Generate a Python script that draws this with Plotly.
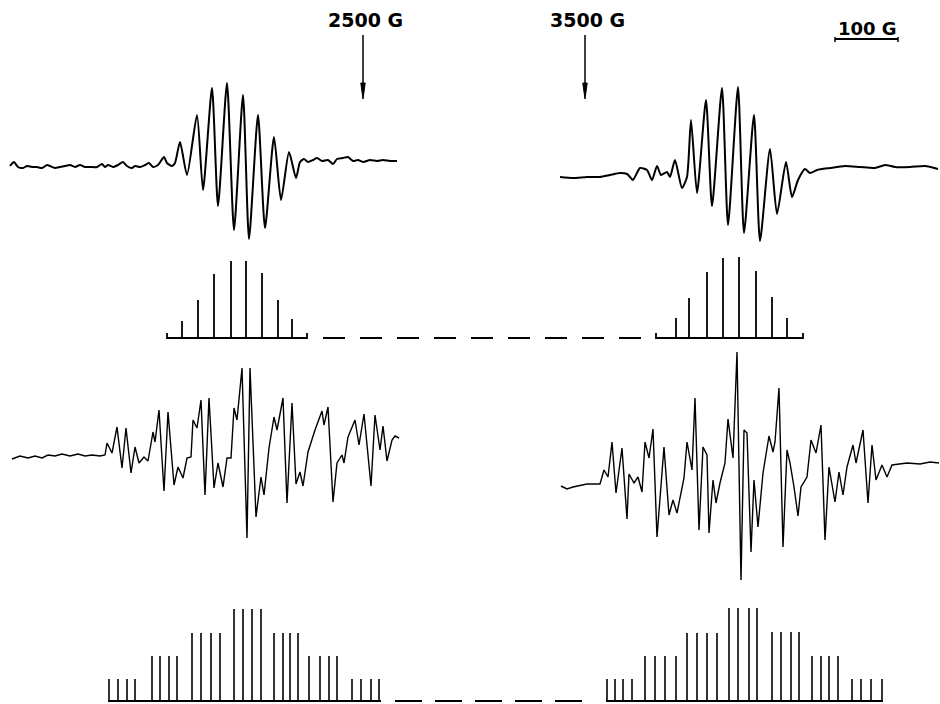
import plotly.graph_objects as go

# ---------------- data ----------------
# horizontal: sweep position (chart units, 0.63 units per gauss)
# vertical: derivative signal amplitude relative to each trace's baseline
UNITS_PER_GAUSS = 0.63

# upper left spectrum
tl_x = [10, 14, 18, 23, 27, 32, 37, 42, 47, 50, 55, 60, 65, 70, 75, 80, 85, 90, 97, 102,
        105, 108, 113, 118, 123, 127, 132, 135, 140, 145, 149, 153, 158, 164, 167, 172, 175,
        180, 187, 197, 203, 212, 218, 227, 234, 243, 249, 258, 265, 274, 281, 289, 296,
        300, 304, 308, 313, 317, 322, 328, 333, 337, 343, 348, 353, 358, 363, 370, 377,
        383, 390, 397]
tl_amp = [-1, 3, -2, -3, -1, -2, -2, -3, 0, -1, -3, -2, -1, 0, -2, 0, -2, -2, -2, 1,
          -2, 0, -2, 0, 3, -1, -3, -1, -2, 0, 2, -2, 0, 8, 2, -1, 2,
          23, -10, 50, -25, 77, -41, 82, -65, 70, -74, 50, -63, 28, -35, 13, -13,
          3, 6, 3, 5, 7, 4, 5, 1, 6, 7, 8, 4, 5, 3, 5, 4,
          5, 4, 4]

# upper right spectrum
tr_x = [560, 573, 587, 600, 610, 620, 627, 630, 633, 640, 647, 652, 657, 661, 667, 670,
        675, 682, 687, 691, 697, 706, 712, 722, 728, 738, 744, 754, 760, 770, 777, 786,
        792, 798, 805, 810, 817, 830, 845, 860, 875, 885, 895, 910, 925, 938]
tr_amp = [-5, -6, -5, -5, -3, -1, -2, -5, -8, 4, 2, -8, 6, -3, 0, -5,
          12, -16, -5, 52, -21, 72, -34, 84, -53, 85, -61, 57, -69, 23, -42, 10,
          -25, -8, 3, -1, 2, 4, 6, 5, 4, 7, 5, 5, 6, 3]

# lower left spectrum
bl_x = [12, 20, 28, 35, 42, 48, 55, 62, 70, 78, 85, 92, 100, 105,
        107, 112, 117, 122, 126, 131, 135, 139, 144, 148, 153, 155, 159, 164, 168, 174,
        178, 183, 187, 191, 193, 197, 201, 205, 209, 214, 218, 223, 227, 231, 234, 237,
        242, 247, 250, 256, 261, 264, 269, 274, 277, 283, 287, 292, 296, 300, 303, 308,
        315, 322, 324, 328, 333, 337, 342, 344, 348, 355, 359, 364, 371, 375, 380, 383,
        387, 392, 395, 399]
bl_amp = [-2, 1, -1, 1, -1, 2, 1, 3, 1, 3, 1, 2, 1, 2,
          14, 4, 30, -11, 29, -16, 10, -6, 0, -4, 25, 15, 47, -34, 45, -28,
          -10, -21, -1, 0, 37, 29, 57, -38, 59, -31, -6, -30, -1, -1, 49, 37,
          89, -81, 89, -60, -20, -38, 9, 40, 27, 59, -46, 54, -27, -15, -29, 5,
          27, 46, 32, 50, -45, -6, 2, -6, 20, 37, 12, 43, -29, 42, 7, 31,
          -4, 17, 21, 19]

# lower right spectrum
br_x = [561, 567, 573, 587, 600, 604, 608, 612, 616, 622, 627, 629, 634, 638, 642, 645,
        649, 653, 657, 661, 664, 669, 673, 677, 684, 687, 692, 695, 699, 703, 707, 709,
        713, 716, 720, 725, 728, 733, 737, 741, 744, 747, 751, 754, 758, 763, 769, 773,
        775, 779, 783, 787, 790, 794, 798, 801, 807, 811, 816, 821, 825, 829, 835, 839,
        843, 847, 853, 856, 863, 868, 872, 876, 882, 887, 892, 907, 920, 930, 939]
br_amp = [-16, -19, -17, -14, -14, 0, -7, 28, -23, 22, -49, -4, -13, -7, -22, 28,
          12, 41, -67, -20, 23, -45, -30, -43, -8, 28, 0, 72, -60, 23, 15, -63,
          -10, -33, -13, 7, 51, 12, 118, -110, 40, 37, -82, -10, -57, -3, 34, 18,
          28, 82, -77, 20, 7, -17, -46, -17, -7, 30, 17, 45, -70, 3, -32, -2,
          -25, 3, 25, 7, 40, -33, 25, -10, 5, -7, 5, 7, 6, 8, 7]

# upper stick diagrams (line positions, relative intensities)
stl_x = [182, 198, 214, 231, 246, 262, 278, 292]
stl_h = [17, 38, 64, 77, 77, 65, 38, 19]
stl_span = [167, 307]
str_x = [676, 689, 707, 723, 739, 756, 772, 787]
str_h = [20, 40, 66, 80, 81, 67, 41, 20]
str_span = [656, 803]
top_break = [323, 642]

# lower stick diagrams: seven groups of four lines
sbl_groups = [[109, 118, 127, 135], [152, 160, 169, 177], [192, 201, 211, 220],
              [234, 243, 252, 261], [274, 283, 290, 298], [309, 320, 329, 337],
              [352, 361, 371, 379]]
sbl_h = [22, 45, 68, 92, 68, 45, 22]
sbl_span = [108, 381]
sbr_groups = [[607, 615, 623, 632], [645, 655, 665, 676], [687, 697, 707, 717],
              [729, 738, 749, 757], [772, 781, 791, 799], [812, 821, 829, 838],
              [852, 861, 871, 882]]
sbr_h = [22, 45, 68, 93, 69, 45, 22]
sbr_span = [606, 883]
bottom_break = [395, 591]

# field markers
field_labels = ["2500 G", "3500 G"]
field_marker_x = [363, 585]
scale_bar_gauss = 100
scale_bar_start = 835

# ---------------- layout of rows (baselines, chart units) ----------------
H = 704
base_tl, base_tr = H - 165, H - 172
base_st = H - 338
base_bl, base_br = H - 457, H - 470
base_sb = H - 701

fig = go.Figure()

def add_line(x, y, width=1.8, shape="linear", dash="solid", smoothing=None):
    line = dict(color="black", width=width, shape=shape, dash=dash)
    if smoothing is not None:
        line["smoothing"] = smoothing
    fig.add_trace(go.Scatter(x=x, y=y, mode="lines", line=line, hoverinfo="skip"))

# spectra
add_line(tl_x, [base_tl + a for a in tl_amp], width=2.0, shape="spline", smoothing=0.6)
add_line(tr_x, [base_tr + a for a in tr_amp], width=2.0, shape="spline", smoothing=0.6)
add_line(bl_x, [base_bl + a for a in bl_amp], width=1.4)
add_line(br_x, [base_br + a for a in br_amp], width=1.4)

def sticks(xs, hs, base):
    X, Y = [], []
    for x, h in zip(xs, hs):
        X += [x, x, None]
        Y += [base, base + h, None]
    return X, Y

def bracket(span, base, up=5):
    return [span[0], span[0], span[1], span[1]], [base + up, base, base, base + up]

for xs, hs, span in [(stl_x, stl_h, stl_span), (str_x, str_h, str_span)]:
    X, Y = sticks(xs, hs, base_st)
    add_line(X, Y, width=1.8)
    bx, by = bracket(span, base_st)
    add_line(bx, by, width=1.8)
add_line(top_break, [base_st, base_st], width=1.8, dash="22px,15px")

for groups, hs, span in [(sbl_groups, sbl_h, sbl_span), (sbr_groups, sbr_h, sbr_span)]:
    xs, hh = [], []
    for g, h in zip(groups, hs):
        xs += g
        hh += [h] * len(g)
    X, Y = sticks(xs, hh, base_sb)
    add_line(X, Y, width=1.6)
    add_line(span, [base_sb, base_sb], width=1.8)
add_line(bottom_break, [base_sb, base_sb], width=1.8, dash="27px,13px")

# field marker arrows and labels
FONT = dict(family="DejaVu Sans", size=19, color="black")
shapes = []
annotations = []
for lab, mx in zip(field_labels, field_marker_x):
    annotations.append(dict(x=mx + 2, y=H - 20, text="<b>" + lab + "</b>", showarrow=False,
                            xanchor="center", yanchor="middle", font=FONT))
    shapes.append(dict(type="line", x0=mx, x1=mx, y0=H - 35, y1=H - 86,
                       line=dict(color="black", width=1.5)))
    shapes.append(dict(type="path",
                       path=f"M {mx-2.2},{H-83} L {mx+2.2},{H-83} L {mx},{H-99} Z",
                       fillcolor="black", line=dict(color="black", width=1)))

# 100 G scale bar
bar_len = scale_bar_gauss * UNITS_PER_GAUSS
x0, x1 = scale_bar_start, scale_bar_start + bar_len
annotations.append(dict(x=(x0 + x1) / 2 + 1, y=H - 28, text=f"<b>{scale_bar_gauss} G</b>",
                        showarrow=False, xanchor="center", yanchor="middle",
                        font=dict(family="DejaVu Sans", size=18, color="black")))
shapes.append(dict(type="line", x0=x0, x1=x1, y0=H - 39, y1=H - 39,
                   line=dict(color="black", width=1.8)))
for xe in (x0, x1):
    shapes.append(dict(type="line", x0=xe, x1=xe, y0=H - 37, y1=H - 42,
                       line=dict(color="black", width=1.5)))

fig.update_layout(
    width=940, height=704, autosize=False,
    margin=dict(l=0, r=0, t=0, b=0),
    paper_bgcolor="white", plot_bgcolor="white",
    showlegend=False,
    xaxis=dict(range=[0, 940], visible=False, fixedrange=True),
    yaxis=dict(range=[0, H], visible=False, fixedrange=True),
    shapes=shapes, annotations=annotations,
)

fig.write_html("out.html", config={"displayModeBar": False},
               post_script="document.body.style.margin='0px';")
